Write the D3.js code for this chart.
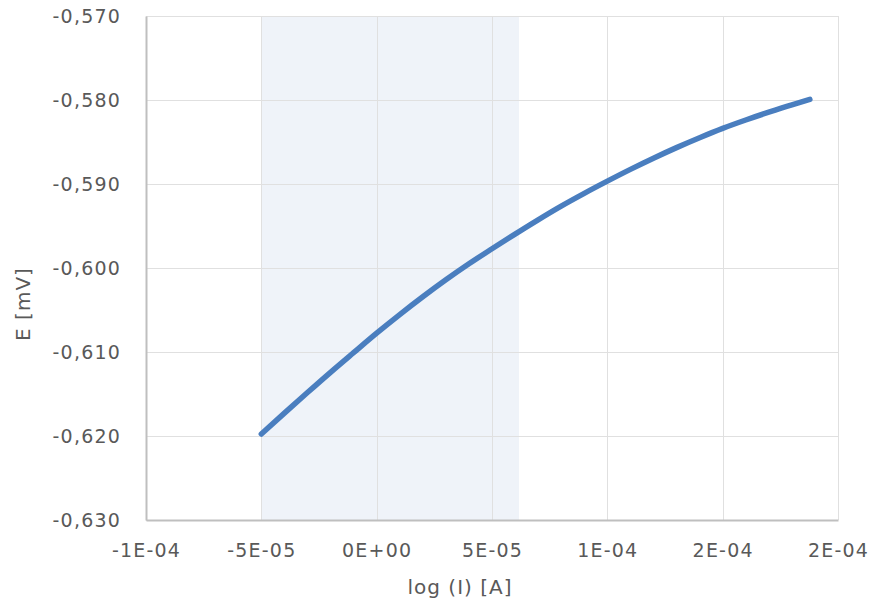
<!DOCTYPE html>
<html>
<head>
<meta charset="utf-8">
<script src="https://cdn.jsdelivr.net/npm/d3@7"></script>
<style>
  html, body { margin: 0; padding: 0; background: #ffffff; }
  svg { display: block; }
  text { font-family: "DejaVu Sans", sans-serif; fill: #595959; }
</style>
</head>
<body>
<svg id="chart" width="875" height="605"></svg>
<script>
// Polarisation curve: current (A) vs potential
const currentA = [
  -5e-5, -4e-5, -3e-5, -2e-5, -1e-5, 0, 1e-5, 2e-5, 3e-5, 4e-5, 5e-5,
  6e-5, 7e-5, 8e-5, 9e-5, 10e-5, 11e-5, 12e-5, 13e-5, 14e-5, 15e-5,
  16e-5, 17e-5, 18e-5, 18.78e-5
];
const potential = [
  -0.61976, -0.61728, -0.61483, -0.61242, -0.61008, -0.60776, -0.60555,
  -0.60343, -0.60141, -0.59950, -0.59771, -0.59596, -0.59426, -0.59263,
  -0.59111, -0.58966, -0.58826, -0.58693, -0.58567, -0.58449, -0.58338,
  -0.58238, -0.58145, -0.58057, -0.57993
];

// Highlighted current range
const bandRange = [-5e-5, 6.17e-5];

// Axis ticks and labels
const xTicks = [-1e-4, -5e-5, 0, 5e-5, 1e-4, 1.5e-4, 2e-4];
const xTickLabels = ["-1E-04", "-5E-05", "0E+00", "5E-05", "1E-04", "2E-04", "2E-04"];
const yTicks = [-0.63, -0.62, -0.61, -0.60, -0.59, -0.58, -0.57];
const yTickLabels = ["-0,630", "-0,620", "-0,610", "-0,600", "-0,590", "-0,580", "-0,570"];

const xTitle = "log (I) [A]";
const yTitle = "E [mV]";

const svg = d3.select("#chart");
const plot = { left: 146, right: 838, top: 16, bottom: 520 };
const labelFont = "'DejaVu Sans', sans-serif";

const x = d3.scaleLinear().domain([-1e-4, 2e-4]).range([plot.left, plot.right]);
const y = d3.scaleLinear().domain([-0.63, -0.57]).range([plot.bottom, plot.top]);

// Shaded band
svg.append("rect")
  .attr("x", x(bandRange[0]))
  .attr("y", plot.top)
  .attr("width", x(bandRange[1]) - x(bandRange[0]))
  .attr("height", plot.bottom - plot.top)
  .attr("fill", "#eff3f9");

// Gridlines
const grid = svg.append("g").attr("stroke", "#e0e0e0").attr("stroke-width", 1);
grid.selectAll("line.h").data(yTicks).join("line")
  .attr("class", "h")
  .attr("x1", plot.left).attr("x2", plot.right)
  .attr("y1", d => Math.round(y(d)) + 0.5).attr("y2", d => Math.round(y(d)) + 0.5);
grid.selectAll("line.v").data(xTicks).join("line")
  .attr("class", "v")
  .attr("y1", plot.top).attr("y2", plot.bottom)
  .attr("x1", d => Math.round(x(d)) + 0.5).attr("x2", d => Math.round(x(d)) + 0.5);

// Axes
const xAxis = d3.axisBottom(x).tickValues(xTicks)
  .tickFormat((d, i) => xTickLabels[i]).tickSize(0).tickPadding(24);
const yAxis = d3.axisLeft(y).tickValues(yTicks)
  .tickFormat((d, i) => yTickLabels[i]).tickSize(0).tickPadding(25);

const gx = svg.append("g").attr("transform", `translate(0,${plot.bottom})`).call(xAxis);
const gy = svg.append("g").attr("transform", `translate(${plot.left},0)`).call(yAxis);

[gx, gy].forEach(g => {
  g.select(".domain").attr("stroke", "#bfbfbf").attr("stroke-width", 2);
  g.selectAll("text")
    .attr("fill", "#595959")
    .style("font-family", labelFont)
    .style("font-size", "19px")
    .style("letter-spacing", "1.2px");
});

// Series line
const line = d3.line()
  .x((d, i) => x(currentA[i]))
  .y(d => y(d))
  .curve(d3.curveMonotoneX);

svg.append("path")
  .datum(potential)
  .attr("fill", "none")
  .attr("stroke", "#4a7ebf")
  .attr("stroke-width", 5.5)
  .attr("stroke-linecap", "round")
  .attr("stroke-linejoin", "round")
  .attr("d", line);

// Axis titles
svg.append("text")
  .attr("x", 460).attr("y", 594)
  .attr("text-anchor", "middle")
  .style("font-size", "20px")
  .style("letter-spacing", "1px")
  .text(xTitle);

svg.append("text")
  .attr("transform", "translate(30,304) rotate(-90)")
  .attr("text-anchor", "middle")
  .style("font-size", "20px")
  .style("letter-spacing", "1px")
  .text(yTitle);
</script>
</body>
</html>
